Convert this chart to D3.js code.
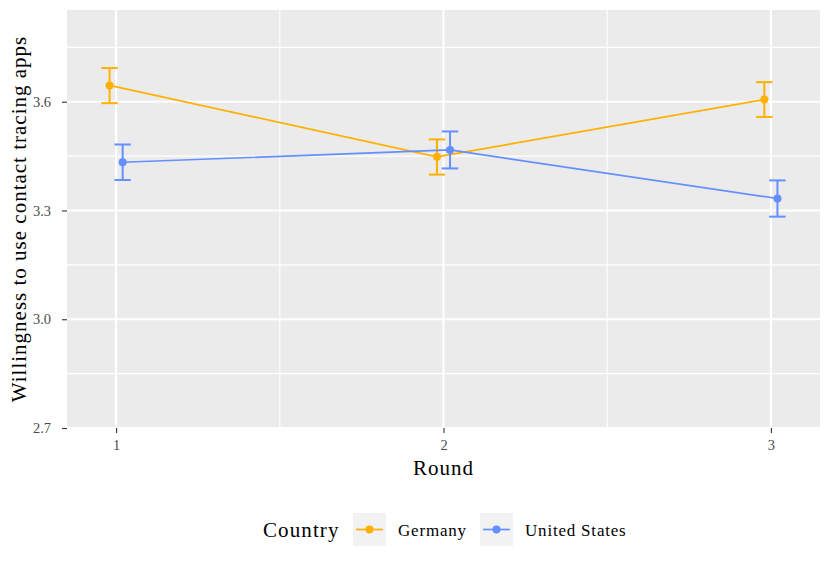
<!DOCTYPE html>
<html><head><meta charset="utf-8">
<script src="https://cdn.jsdelivr.net/npm/d3@7"></script>
<style>body{margin:0;background:#fff}svg{display:block}</style>
</head><body><svg id="c" width="830" height="567"></svg>
<script>
const rounds = [1, 2, 3];
const countries = ["Germany", "United States"];
const germanyMean = [3.645, 3.448, 3.606];
const germanyLow  = [3.596, 3.399, 3.558];
const germanyHigh = [3.693, 3.496, 3.654];
const usMean = [3.433, 3.467, 3.333];
const usLow  = [3.384, 3.416, 3.283];
const usHigh = [3.482, 3.518, 3.383];
const yTicks = [2.7, 3.0, 3.3, 3.6];
const yMinor = [2.85, 3.15, 3.45, 3.75];
const xMinor = [1.5, 2.5];
const colors = ["#FFB000", "#648FFF"];
const dodge = [-0.02, 0.02];

const font = "'Liberation Serif', 'DejaVu Serif', serif";
const svg = d3.select("#c");
const L = 67, R = 820, T = 10, B = 428;
const x = d3.scaleLinear().domain([0.85, 3.15]).range([L, R]);
const y = d3.scaleLinear().domain([2.7, 3.853]).range([B, T]);

svg.append("rect").attr("x", L).attr("y", T).attr("width", R - L).attr("height", B - T).attr("fill", "#EBEBEB");
const g = svg.append("g");
g.selectAll(".ymn").data(yMinor).join("line").attr("x1", L).attr("x2", R)
  .attr("y1", d => y(d)).attr("y2", d => y(d)).attr("stroke", "#fff").attr("stroke-width", 1.1);
g.selectAll(".xmn").data(xMinor).join("line").attr("y1", T).attr("y2", B)
  .attr("x1", d => x(d)).attr("x2", d => x(d)).attr("stroke", "#fff").attr("stroke-width", 1.1);
g.selectAll(".ymj").data(yTicks).join("line").attr("x1", L).attr("x2", R)
  .attr("y1", d => y(d)).attr("y2", d => y(d)).attr("stroke", "#fff").attr("stroke-width", 2.1);
g.selectAll(".xmj").data(rounds).join("line").attr("y1", T).attr("y2", B)
  .attr("x1", d => x(d)).attr("x2", d => x(d)).attr("stroke", "#fff").attr("stroke-width", 2.1);

// axes
const yAxis = d3.axisLeft(y).tickValues(yTicks).tickFormat(d3.format(".1f")).tickSize(5).tickPadding(11);
const ya = svg.append("g").attr("transform", `translate(${L},0)`).call(yAxis);
const xAxis = d3.axisBottom(x).tickValues(rounds).tickFormat(d3.format("d")).tickSize(5).tickPadding(7);
const xa = svg.append("g").attr("transform", `translate(0,${B})`).call(xAxis);
[ya, xa].forEach(a => {
  a.select(".domain").remove();
  a.attr("font-size", null).attr("font-family", null);
  a.selectAll(".tick line").attr("stroke", "#333").attr("stroke-width", 1.1);
  a.selectAll(".tick text").attr("fill", "#4D4D4D").style("font-family", font).style("font-size", "14.5px");
});

svg.append("text").attr("x", x(2)).attr("y", 475).attr("text-anchor", "middle")
  .style("font-family", font).style("font-size", "21px").style("letter-spacing", "1px").attr("fill", "#000").text("Round");
svg.append("text").attr("transform", `translate(26,${(T + B) / 2}) rotate(-90)`).attr("text-anchor", "middle")
  .style("font-family", font).style("font-size", "21px").style("letter-spacing", "1px").attr("fill", "#000").text("Willingness to use contact tracing apps");

const series = [
  { name: countries[0], mean: germanyMean, lo: germanyLow, hi: germanyHigh },
  { name: countries[1], mean: usMean, lo: usLow, hi: usHigh }
];
const line = d3.line().x(d => x(d[0])).y(d => y(d[1]));
series.forEach((s, i) => {
  const pts = rounds.map((r, j) => [r + dodge[i], s.mean[j], s.lo[j], s.hi[j]]);
  const sg = svg.append("g");
  sg.append("path").datum(pts).attr("d", line).attr("fill", "none").attr("stroke", colors[i]).attr("stroke-width", 1.7);
  const eb = sg.selectAll(".eb").data(pts).join("g");
  eb.append("line").attr("x1", d => x(d[0])).attr("x2", d => x(d[0])).attr("y1", d => y(d[2])).attr("y2", d => y(d[3]))
    .attr("stroke", colors[i]).attr("stroke-width", 2);
  eb.append("line").attr("x1", d => x(d[0] - 0.025)).attr("x2", d => x(d[0] + 0.025)).attr("y1", d => y(d[2])).attr("y2", d => y(d[2]))
    .attr("stroke", colors[i]).attr("stroke-width", 2);
  eb.append("line").attr("x1", d => x(d[0] - 0.025)).attr("x2", d => x(d[0] + 0.025)).attr("y1", d => y(d[3])).attr("y2", d => y(d[3]))
    .attr("stroke", colors[i]).attr("stroke-width", 2);
  sg.selectAll("circle").data(pts).join("circle").attr("cx", d => x(d[0])).attr("cy", d => y(d[1])).attr("r", 4).attr("fill", colors[i]);
});

// legend
const lg = svg.append("g");
lg.append("text").attr("x", 263).attr("y", 537).style("font-family", font).style("font-size", "21px").style("letter-spacing", "1.1px").attr("fill", "#000").text("Country");
const keyX = [353, 480];
countries.forEach((c, i) => {
  const kx = keyX[i];
  lg.append("rect").attr("x", kx).attr("y", 513).attr("width", 33).attr("height", 33).attr("fill", "#F2F2F2");
  lg.append("line").attr("x1", kx + 3).attr("x2", kx + 30).attr("y1", 529.5).attr("y2", 529.5).attr("stroke", colors[i]).attr("stroke-width", 1.7);
  lg.append("circle").attr("cx", kx + 16.5).attr("cy", 529.5).attr("r", 4).attr("fill", colors[i]);
  lg.append("text").attr("x", kx + 45).attr("y", 535.5).style("font-family", font).style("font-size", "17px").style("letter-spacing", "0.8px").attr("fill", "#000").text(c);
});
</script></body></html>
